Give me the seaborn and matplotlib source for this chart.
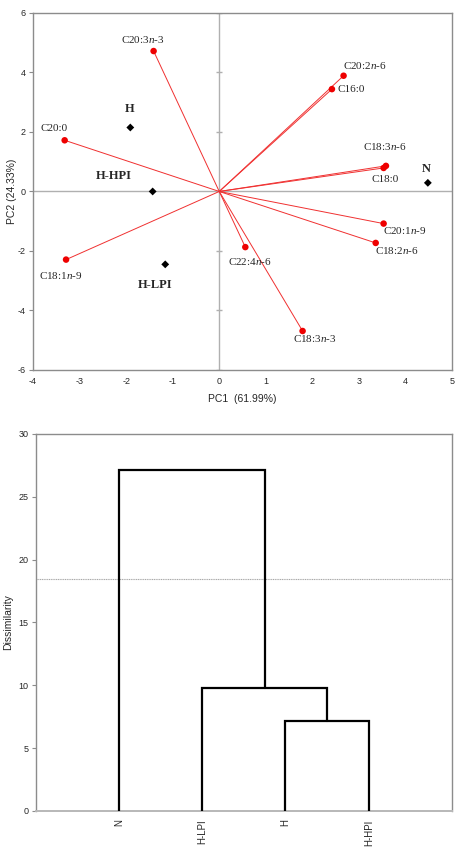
import numpy as np
import pandas as pd
import matplotlib
matplotlib.use("Agg")
import matplotlib.pyplot as plt
import seaborn as sns

# PCA loadings (fatty acids)
fa_names = ["C20:3n-3", "C20:2n-6", "C16:0", "C20:0", "C18:3n-6", "C18:0",
            "C20:1n-9", "C18:2n-6", "C22:4n-6", "C18:1n-9", "C18:3n-3"]
fa_pc1 = [-1.41, 2.67, 2.42, -3.32, 3.58, 3.53, 3.53, 3.36, 0.56, -3.29, 1.79]
fa_pc2 = [4.72, 3.89, 3.44, 1.72, 0.86, 0.79, -1.08, -1.73, -1.87, -2.29, -4.69]

# PCA scores (groups)
grp_names = ["H", "N", "H-HPI", "H-LPI"]
grp_pc1 = [-1.91, 4.48, -1.43, -1.16]
grp_pc2 = [2.15, 0.29, 0.00, -2.45]

# dendrogram: leaf order and merges (left idx, right idx, height)
leaves = ["N", "H-LPI", "H", "H-HPI"]
merges = [(2, 3, 7.15), (1, 4, 9.78), (0, 5, 27.1)]
cut_level = 18.45

# label offsets in pixels (ha, dx, dy)
fa_offsets = {
    "C20:3n-3": ("center", -11, 12), "C20:2n-6": ("center", 21, 10),
    "C16:0": ("left", 6, 0), "C20:0": ("center", -11, 12),
    "C18:3n-6": ("center", -1, 19), "C18:0": ("center", 2, -12),
    "C20:1n-9": ("center", 21, -7), "C18:2n-6": ("center", 21, -8),
    "C22:4n-6": ("center", 5, -14), "C18:1n-9": ("center", -5, -16),
    "C18:3n-3": ("center", 12, -8),
}
grp_offsets = {"H": (-1, 18), "N": (-2, 14), "H-HPI": (-39, 15), "H-LPI": (-10, -21)}

sns.set_style("white")
plt.rcParams["font.family"] = ["Liberation Sans", "DejaVu Sans"]
plt.rcParams["mathtext.fontset"] = "custom"
plt.rcParams["mathtext.rm"] = "Liberation Serif"
plt.rcParams["mathtext.it"] = "Liberation Serif:italic"
plt.rcParams["axes.unicode_minus"] = False

frame_col = "#8c8c8c"
fig = plt.figure(figsize=(4.57, 8.58), dpi=100)

# ---------- biplot ----------
ax1 = fig.add_axes([0.0722, 0.5688, 0.917, 0.4161])
fa = pd.DataFrame({"name": fa_names, "pc1": fa_pc1, "pc2": fa_pc2})
grp = pd.DataFrame({"name": grp_names, "pc1": grp_pc1, "pc2": grp_pc2})

ax1.axhline(0, color="#b0b0b0", lw=1.0, zorder=1)
ax1.axvline(0, color="#b0b0b0", lw=1.0, zorder=1)
yt = [-6, -4, -2, 0, 2, 4, 6]
ax1.plot([0] * len(yt), yt, ls="none", marker="_", ms=5, color="#b0b0b0", zorder=1)

for _, r in fa.iterrows():
    ax1.plot([0, r.pc1], [0, r.pc2], color="#f03030", lw=0.7, zorder=2)
sns.scatterplot(data=fa, x="pc1", y="pc2", color="#ee0000", s=22, edgecolor="none",
                zorder=3, ax=ax1)
sns.scatterplot(data=grp, x="pc1", y="pc2", color="black", marker="D", s=16,
                edgecolor="none", zorder=3, ax=ax1)

for _, r in fa.iterrows():
    ha, dx, dy = fa_offsets[r["name"]]
    lab = r["name"].replace("n-", r"$\mathit{n}$-")
    ax1.annotate(lab, (r.pc1, r.pc2), xytext=(dx, dy), textcoords="offset pixels",
                 ha=ha, va="center", fontsize=8, family="Liberation Serif")
for _, r in grp.iterrows():
    dx, dy = grp_offsets[r["name"]]
    ax1.annotate(r["name"], (r.pc1, r.pc2), xytext=(dx, dy), textcoords="offset pixels",
                 ha="center", va="center", fontsize=9, fontweight="bold",
                 family="Liberation Serif")

ax1.set_xlim(-4, 5)
ax1.set_ylim(-6, 6)
ax1.set_xticks(range(-4, 6))
ax1.set_yticks(yt)
ax1.set_xlabel("PC1  (61.99%)", fontsize=7.5, labelpad=6)
ax1.set_ylabel("PC2 (24.33%)", fontsize=7.5, labelpad=1)
ax1.tick_params(axis="y", labelsize=6.5, length=3, color=frame_col, left=True, pad=2)
ax1.tick_params(axis="x", labelsize=6.5, length=0, pad=5)
for s in ax1.spines.values():
    s.set_color(frame_col)
    s.set_linewidth(1.0)

# ---------- dendrogram ----------
ax2 = fig.add_axes([0.0781, 0.0548, 0.911, 0.4394])
xpos = {i: i + 1.0 for i in range(len(leaves))}
ypos = {i: 0.0 for i in range(len(leaves))}
segs = []
for k, (a, b, h) in enumerate(merges):
    nid = len(leaves) + k
    xa, xb = xpos[a], xpos[b]
    segs.append(pd.DataFrame({"x": [xa, xa, xb, xb], "y": [ypos[a], h, h, ypos[b]],
                              "seg": k}))
    xpos[nid] = (xa + xb) / 2
    ypos[nid] = h
dend = pd.concat(segs, ignore_index=True)
for k, d in dend.groupby("seg"):
    ax2.plot(d["x"], d["y"], color="black", lw=1.6, solid_joinstyle="miter", zorder=3)

ax2.axhline(cut_level, color="#a8a8a8", lw=0.8, ls=(0, (1, 0.6)), zorder=1)
ax2.set_xlim(0, 5)
ax2.set_ylim(0, 30)
ax2.set_xticks([xpos[i] for i in range(len(leaves))])
ax2.set_xticklabels(leaves, rotation=90)
ax2.set_yticks([0, 5, 10, 15, 20, 25, 30])
ax2.set_ylabel("Dissimilarity", fontsize=7.5, labelpad=4)
ax2.tick_params(axis="y", labelsize=6.5, length=3, color=frame_col, left=True, pad=2)
ax2.tick_params(axis="x", labelsize=7, length=0, pad=6)
for s in ax2.spines.values():
    s.set_color(frame_col)
    s.set_linewidth(1.0)
ax2.spines["bottom"].set_color("#b8b8b8")
ax2.spines["bottom"].set_linewidth(1.4)

fig.savefig("out.png", dpi=100)
